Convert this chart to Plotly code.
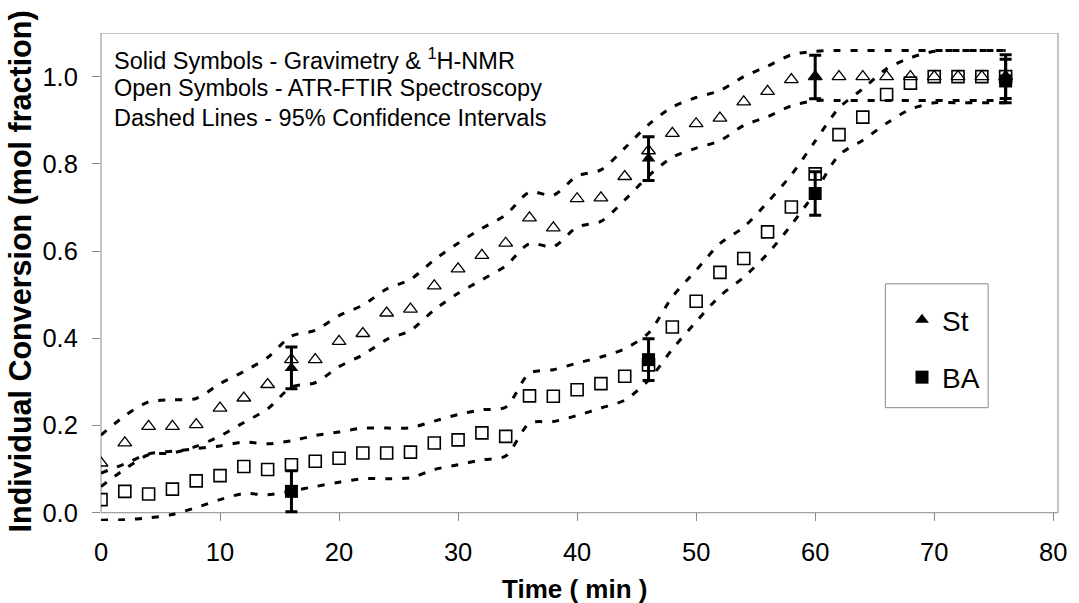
import plotly.graph_objects as go

# ---------------- data ----------------
t_open = list(range(0, 78, 2))  # 0..76 min, every 2 min (ATR-FTIR)

st_open = [0.114, 0.160, 0.198, 0.198, 0.202, 0.240, 0.263, 0.294, 0.351, 0.351,
           0.393, 0.411, 0.458, 0.467, 0.520, 0.559, 0.590, 0.618, 0.676, 0.653,
           0.720, 0.722, 0.771, 0.830, 0.870, 0.892, 0.905, 0.942, 0.966, 0.993,
           1.000, 1.000, 1.000, 1.000, 1.000, 1.000, 1.000, 1.000, 1.000]

ba_open = [0.030, 0.049, 0.043, 0.054, 0.073, 0.085, 0.106, 0.099, 0.110, 0.118,
           0.125, 0.137, 0.137, 0.139, 0.160, 0.167, 0.183, 0.175, 0.268, 0.267,
           0.282, 0.296, 0.313, 0.339, 0.426, 0.485, 0.551, 0.583, 0.644, 0.701,
           0.777, 0.867, 0.907, 0.959, 0.985, 1.000, 1.000, 1.000, 1.000]

# 95% confidence interval bounds (same time grid)
st_upper = [0.178, 0.222, 0.254, 0.259, 0.262, 0.296, 0.324, 0.356, 0.405, 0.418,
            0.452, 0.476, 0.513, 0.535, 0.580, 0.618, 0.652, 0.683, 0.735, 0.728,
            0.772, 0.786, 0.836, 0.890, 0.930, 0.952, 0.968, 1.000, 1.024, 1.050,
            1.058, 1.060, 1.060, 1.060, 1.060, 1.060, 1.060, 1.060, 1.060]
st_lower = [0.060, 0.100, 0.133, 0.137, 0.152, 0.176, 0.207, 0.238, 0.288, 0.298,
            0.335, 0.362, 0.397, 0.418, 0.465, 0.503, 0.534, 0.566, 0.617, 0.610,
            0.655, 0.668, 0.717, 0.772, 0.815, 0.836, 0.853, 0.888, 0.908, 0.933,
            0.945, 0.945, 0.945, 0.945, 0.945, 0.945, 0.945, 0.945, 0.945]
ba_upper = [0.091, 0.112, 0.135, 0.141, 0.147, 0.153, 0.162, 0.158, 0.165, 0.177,
            0.185, 0.194, 0.194, 0.195, 0.210, 0.225, 0.236, 0.242, 0.320, 0.328,
            0.343, 0.357, 0.376, 0.412, 0.495, 0.556, 0.617, 0.655, 0.712, 0.775,
            0.852, 0.928, 0.972, 1.018, 1.043, 1.058, 1.060, 1.060, 1.060]
ba_lower = [-0.017, -0.016, -0.012, -0.004, 0.012, 0.030, 0.044, 0.041, 0.050, 0.060,
            0.070, 0.078, 0.078, 0.080, 0.099, 0.110, 0.121, 0.130, 0.205, 0.209,
            0.223, 0.240, 0.258, 0.304, 0.375, 0.438, 0.497, 0.540, 0.594, 0.660,
            0.735, 0.820, 0.854, 0.893, 0.925, 0.940, 0.940, 0.940, 0.940]

# Gravimetry & 1H-NMR (solid symbols)
t_solid = [16, 46, 60, 76]
st_solid = [0.332, 0.812, 0.999, 1.000]
st_err = [0.048, 0.050, 0.050, 0.050]
ba_solid = [0.049, 0.351, 0.732, 0.990]
ba_err = [0.047, 0.048, 0.050, 0.050]

x_ticks = [0, 10, 20, 30, 40, 50, 60, 70, 80]
y_ticks = [0.0, 0.2, 0.4, 0.6, 0.8, 1.0]
y_tick_labels = ["0.0", "0.2", "0.4", "0.6", "0.8", "1.0"]

FONT = "Liberation Sans, Arial, Helvetica, sans-serif"

fig = go.Figure()

dash_line = dict(color="black", width=3, dash="7px,10px", shape="spline", smoothing=0.8)
for yy in (st_upper, st_lower, ba_upper, ba_lower):
    fig.add_trace(go.Scatter(x=t_open, y=yy, mode="lines", line=dash_line,
                             showlegend=False, hoverinfo="skip"))

fig.add_trace(go.Scatter(x=t_open, y=st_open, mode="markers", showlegend=False,
                         marker=dict(symbol="triangle-up-open", size=12, color="black",
                                     line=dict(width=1.3, color="black"))))
fig.add_trace(go.Scatter(x=t_open, y=ba_open, mode="markers", showlegend=False,
                         marker=dict(symbol="square-open", size=12, color="black",
                                     line=dict(width=1.6, color="black"))))

fig.add_trace(go.Scatter(x=t_solid, y=st_solid, mode="markers", name="St",
                         legendgroup="st",
                         marker=dict(symbol="triangle-up", size=12, color="black"),
                         error_y=dict(type="data", array=st_err, visible=True,
                                      color="black", thickness=3, width=6)))
fig.add_trace(go.Scatter(x=t_solid, y=ba_solid, mode="markers", name="BA",
                         legendgroup="ba",
                         marker=dict(symbol="square", size=13, color="black"),
                         error_y=dict(type="data", array=ba_err, visible=True,
                                      color="black", thickness=3, width=6)))

frame_color = "#8a8a8a"
shapes = [
    dict(type="rect", xref="paper", yref="y", x0=0, x1=1, y0=0, y1=1.1,
         line=dict(color=frame_color, width=1), layer="below"),
    dict(type="rect", xref="paper", yref="paper", x0=0.8196, x1=0.927, y0=0.2322, y1=0.486,
         line=dict(color=frame_color, width=1), layer="below"),
]

ann_font = dict(family=FONT, size=23.5, color="black")
annotations = [
    dict(text="Solid Symbols - Gravimetry & <sup>1</sup>H-NMR", xref="paper", yref="paper",
         x=0.0115, y=0.9468, xanchor="left", yanchor="middle", showarrow=False, font=ann_font),
    dict(text="Open Symbols - ATR-FTIR Spectroscopy", xref="paper", yref="paper",
         x=0.0115, y=0.8874, xanchor="left", yanchor="middle", showarrow=False, font=ann_font),
    dict(text="Dashed Lines - 95% Confidence Intervals", xref="paper", yref="paper",
         x=0.0115, y=0.826, xanchor="left", yanchor="middle", showarrow=False, font=ann_font),
    dict(text="<b>Time ( min )</b>", xref="paper", yref="paper", x=0.4948, y=-0.139,
         xanchor="center", yanchor="middle", showarrow=False,
         font=dict(family=FONT, size=26, color="black")),
    dict(text="<b>Individual Conversion (mol fraction)</b>", xref="paper", yref="paper",
         x=-0.084, y=0.5107, xanchor="center", yanchor="middle", textangle=-90,
         showarrow=False, font=dict(family=FONT, size=30.5, color="black")),
]

fig.update_layout(
    width=1079, height=603,
    margin=dict(l=101, r=19, t=33, b=82),
    paper_bgcolor="white", plot_bgcolor="white",
    font=dict(family=FONT, color="black"),
    shapes=shapes, annotations=annotations,
    legend=dict(x=0.837, y=0.463, xanchor="left", yanchor="top",
                bgcolor="rgba(0,0,0,0)", borderwidth=0,
                font=dict(family=FONT, size=28, color="black"),
                tracegroupgap=18, traceorder="grouped"),
    xaxis=dict(range=[0, 80.4], tickvals=x_ticks, ticks="inside", ticklen=8,
               tickcolor=frame_color, showgrid=False, zeroline=False, showline=False,
               tickfont=dict(family=FONT, size=25.5, color="black"),
               ticklabelstandoff=13),
    yaxis=dict(range=[-0.019, 1.1], tickvals=y_ticks, ticktext=y_tick_labels,
               ticks="outside", ticklen=8, tickcolor=frame_color,
               showgrid=False, zeroline=False, showline=False,
               tickfont=dict(family=FONT, size=25.5, color="black"),
               ticklabelstandoff=9),
)

fig.write_html("out.html")
